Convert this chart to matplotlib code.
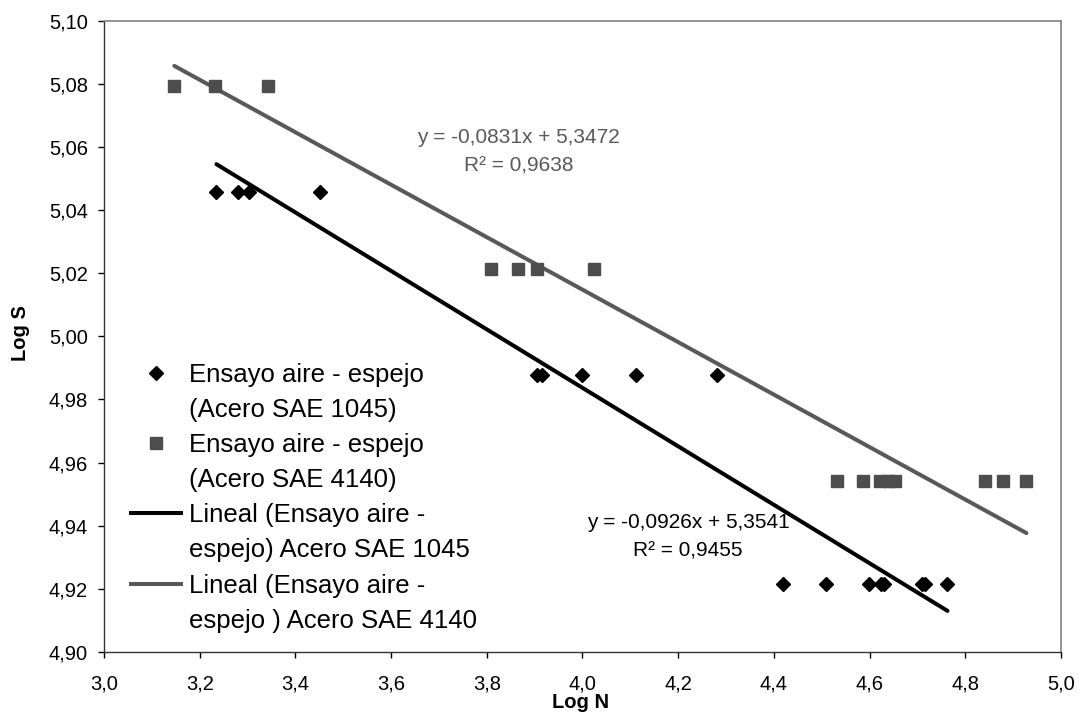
import matplotlib
matplotlib.use("Agg")
import matplotlib.pyplot as plt
import numpy as np
from matplotlib.lines import Line2D
from matplotlib.ticker import FuncFormatter

plt.rcParams['font.family'] = ['Liberation Sans', 'DejaVu Sans']

# Series: Ensayo aire - espejo (Acero SAE 1045)
x_1045 = [3.235, 3.280, 3.304, 3.451,
          3.906, 3.916, 4.000, 4.111, 4.281,
          4.419, 4.510, 4.598, 4.625, 4.630, 4.710, 4.716, 4.763]
y_1045 = [5.0458, 5.0458, 5.0458, 5.0458,
          4.9877, 4.9877, 4.9877, 4.9877, 4.9877,
          4.9214, 4.9214, 4.9214, 4.9214, 4.9214, 4.9214, 4.9214, 4.9214]

# Series: Ensayo aire - espejo (Acero SAE 4140)
x_4140 = [3.147, 3.232, 3.343,
          3.808, 3.865, 3.906, 4.024,
          4.533, 4.586, 4.621, 4.640, 4.654, 4.842, 4.878, 4.928]
y_4140 = [5.0792, 5.0792, 5.0792,
          5.0212, 5.0212, 5.0212, 5.0212,
          4.9542, 4.9542, 4.9542, 4.9542, 4.9542, 4.9542, 4.9542, 4.9542]

# Trendline coefficients (as printed on the chart)
slope_1045, intercept_1045, r2_1045 = -0.0926, 5.3541, 0.9455
slope_4140, intercept_4140, r2_4140 = -0.0831, 5.3472, 0.9638

legend_labels = ["Ensayo aire - espejo", "(Acero SAE 1045)",
                 "Ensayo aire - espejo", "(Acero SAE 4140)",
                 "Lineal (Ensayo aire -", "espejo) Acero SAE 1045",
                 "Lineal (Ensayo aire -", "espejo ) Acero SAE 4140"]

x_ticks = [3.0, 3.2, 3.4, 3.6, 3.8, 4.0, 4.2, 4.4, 4.6, 4.8, 5.0]
y_ticks = [4.90, 4.92, 4.94, 4.96, 4.98, 5.00, 5.02, 5.04, 5.06, 5.08, 5.10]

C_BLACK = "#000000"
C_SQ = "#4d4d4d"
C_GRAY = "#595959"

fig = plt.figure(figsize=(10.8, 7.13), dpi=100)
ax = fig.add_axes([0.0963, 0.0855, 0.886, 0.8855])

# trendlines
tx1 = np.array([min(x_1045), max(x_1045)])
tx2 = np.array([min(x_4140), max(x_4140)])
ax.plot(tx1, slope_1045 * tx1 + intercept_1045, color=C_BLACK, lw=2.9,
        solid_capstyle='round', zorder=2)
ax.plot(tx2, slope_4140 * tx2 + intercept_4140, color=C_GRAY, lw=2.9,
        solid_capstyle='round', zorder=2)

ax.plot(x_1045, y_1045, linestyle='none', marker='D', ms=6.8,
        color=C_BLACK, zorder=3)
ax.plot(x_4140, y_4140, linestyle='none', marker='s', ms=8.0,
        color=C_SQ, zorder=3)

def fmt(v, d):
    return f"{v:.{d}f}".replace(".", ",")

ax.text(3.866, 5.0585,
        f"y = {fmt(slope_4140, 4)}x + {fmt(intercept_4140, 4)}\nR² = {fmt(r2_4140, 4)}",
        ha='center', va='center', ma='center', fontsize=15, color=C_GRAY,
        linespacing=1.6)
ax.text(4.221, 4.9365,
        f"y = {fmt(slope_1045, 4)}x + {fmt(intercept_1045, 4)}\nR² = {fmt(r2_1045, 4)}",
        ha='center', va='center', ma='center', fontsize=15, color=C_BLACK,
        linespacing=1.6)

ax.set_xlim(3.0, 5.0)
ax.set_ylim(4.90, 5.10)
ax.set_xticks(x_ticks)
ax.set_yticks(y_ticks)
ax.xaxis.set_major_formatter(FuncFormatter(lambda v, p: fmt(v, 1)))
ax.yaxis.set_major_formatter(FuncFormatter(lambda v, p: fmt(v, 2)))
ax.tick_params(axis='both', direction='out', length=4.5, width=1.0,
               labelsize=14.5, colors='#000000')
ax.tick_params(axis='y', pad=7)
ax.tick_params(axis='x', pad=12)

for s in ['left', 'bottom']:
    ax.spines[s].set_color('#333333')
    ax.spines[s].set_linewidth(1.0)
for s in ['top', 'right']:
    ax.spines[s].set_color('#808080')
    ax.spines[s].set_linewidth(1.2)

fig.text(581 / 1080, 1 - 703 / 713, "Log N", fontsize=14.5, fontweight='bold',
         ha='center', va='center')
fig.text(21 / 1080, 1 - 333 / 713, "Log S", fontsize=14.5, fontweight='bold',
         ha='center', va='center', rotation=90)

blank = Line2D([], [], color='none')
handles = [Line2D([], [], linestyle='none', marker='D', ms=6.8, color=C_BLACK), blank,
           Line2D([], [], linestyle='none', marker='s', ms=8.0, color=C_SQ), blank,
           Line2D([], [], color=C_BLACK, lw=2.9), blank,
           Line2D([], [], color=C_GRAY, lw=2.9), blank]
leg = fig.legend(handles, legend_labels, loc='upper left',
                 bbox_to_anchor=(131 / 1080, 1 - 362.5 / 713),
                 frameon=False, fontsize=18.5, handlelength=1.95,
                 handletextpad=0.29, labelspacing=0.435, borderpad=0,
                 borderaxespad=0)

fig.savefig("out.png", dpi=100)
